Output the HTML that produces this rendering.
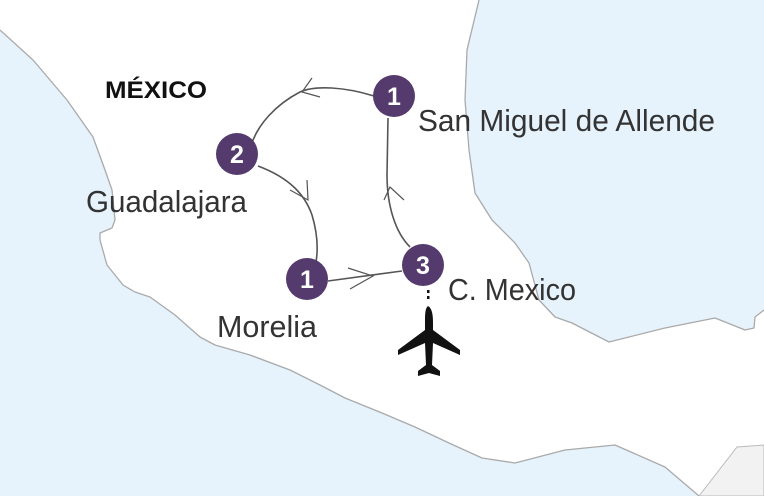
<!DOCTYPE html>
<html><head><meta charset="utf-8"><style>
html,body{margin:0;padding:0;background:#e6f3fc;}
svg{display:block}
text{font-family:"Liberation Sans Narrow","Liberation Sans",sans-serif;}
</style></head><body>
<svg width="764" height="496" viewBox="0 0 764 496" xmlns="http://www.w3.org/2000/svg">
<rect width="764" height="496" fill="#e6f3fc"/>
<path d="M0,30 L33,60 L67,100 L93,137 L105,170 L112,190 L115,220 L112,228 L100,233 L100,240 L107,265 L123,285 L135,292 L150,297 L175,315 L200,337 L215,345 L250,355 L290,370 L320,385 L345,398 L382,413 L415,427 L449,443 L482,458 L515,463 L565,450 L615,445 L665,467 L699,496 L737,447 L764,445 L764,310 L755,317 L754,328 L745,330 L715,318 L665,328 L609,342 L572,323 L555,317 L539,300 L529,263 L515,243 L492,220 L475,193 L469,150 L465,100 L467,50 L479,0 L0,0 Z" fill="#fff"/>
<path d="M0,30 L33,60 L67,100 L93,137 L105,170 L112,190 L115,220 L112,228 L100,233 L100,240 L107,265 L123,285 L135,292 L150,297 L175,315 L200,337 L215,345 L250,355 L290,370 L320,385 L345,398 L382,413 L415,427 L449,443 L482,458 L515,463 L565,450 L615,445 L665,467 L699,496" fill="none" stroke="#aaa" stroke-width="1.3" stroke-linejoin="round"/>
<path d="M479,0 L467,50 L465,100 L469,150 L475,193 L492,220 L515,243 L529,263 L539,300 L555,317 L572,323 L609,342 L665,328 L715,318 L745,330 L754,328 L755,317 L764,310" fill="none" stroke="#aaa" stroke-width="1.3" stroke-linejoin="round"/>
<path d="M699,496 L737,447 L764,445 L764,496 Z" fill="#f2f2f2" stroke="#bbb" stroke-width="1"/>
<g fill="none" stroke="#555" stroke-width="1.6">
<path d="M374,96 C345,87 315,85 300,92 C275,105 258,125 252,143"/>
<path d="M258,166 C290,178 305,195 312,215 C318,235 318,250 316,262"/>
<path d="M328,281 L402,271"/>
<path d="M410,247 C395,232 387,205 387,175 L388,118"/>
</g>
<g fill="none" stroke="#555" stroke-width="1.2">
<path d="M312,78 L302,92 L320,97"/>
<path d="M290,190 L308,200 L307,180"/>
<path d="M348,268 L373,276 L350,289"/>
<path d="M384,200 L390,187 L404,200"/>
</g>
<g fill="#553a6e">
<circle cx="394" cy="96" r="21"/>
<circle cx="237" cy="154" r="21"/>
<circle cx="307" cy="279" r="21"/>
<circle cx="423" cy="265" r="21"/>
</g>
<g fill="#fff" font-size="25" font-weight="bold" text-anchor="middle">
<text x="394" y="105">1</text>
<text x="237" y="163">2</text>
<text x="307" y="288">1</text>
<text x="423" y="274">3</text>
</g>
<g fill="#333" font-size="31">
<text x="418" y="131" textLength="297" lengthAdjust="spacingAndGlyphs">San Miguel de Allende</text>
<text x="86" y="212" textLength="161" lengthAdjust="spacingAndGlyphs">Guadalajara</text>
<text x="217" y="337" textLength="100" lengthAdjust="spacingAndGlyphs">Morelia</text>
<text x="448" y="300" textLength="128" lengthAdjust="spacingAndGlyphs">C. Mexico</text>
</g>
<text x="105" y="98" font-size="24" font-weight="bold" fill="#111" textLength="102" lengthAdjust="spacingAndGlyphs">MÉXICO</text>
<rect x="427" y="290" width="2.5" height="3" fill="#111"/>
<rect x="427" y="296" width="2.5" height="3" fill="#111"/>
<path d="M428,306 C425,308 425,315 425,322 L425,330 L398,350 L398,355 L425,343 L426,365 L418,371 L418,376 L429,373 L440,376 L440,371 L432,365 L433,343 L460,355 L460,350 L433,330 L433,322 C433,315 432,308 428,306 Z" fill="#111"/>
</svg>
</body></html>
